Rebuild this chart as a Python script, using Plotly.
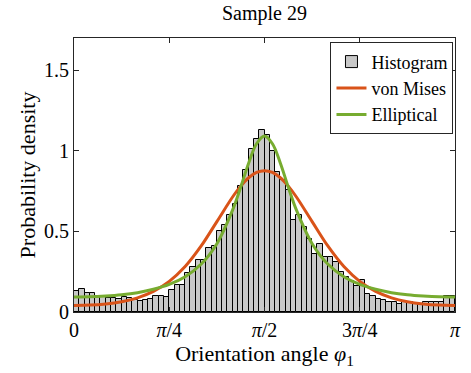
import numpy as np
import plotly.graph_objects as go

# ---- data ----
n_bins = 72
hist_density = [
    0.13, 0.14, 0.12, 0.115, 0.10, 0.09, 0.085, 0.085, 0.08, 0.09,
    0.085, 0.075, 0.07, 0.075, 0.08, 0.10, 0.10, 0.095, 0.135, 0.165,
    0.17, 0.24, 0.28, 0.32, 0.325, 0.40, 0.41, 0.50, 0.54, 0.60,
    0.67, 0.78, 0.88, 1.01, 1.075, 1.13, 1.10, 1.00, 0.87, 0.82,
    0.76, 0.57, 0.60, 0.53, 0.45, 0.36, 0.42, 0.34, 0.34, 0.31,
    0.25, 0.22, 0.19, 0.16, 0.196, 0.11, 0.10, 0.08, 0.075, 0.064,
    0.06, 0.05, 0.064, 0.064, 0.055, 0.05, 0.06, 0.064, 0.06, 0.06,
    0.10, 0.097,
]

curve_deg = [0, 7.5, 15, 22.5, 30, 37.5, 45, 52.5, 60, 67.5, 75, 78.75, 82.5,
             86.25, 90, 93.75, 97.5, 101.25, 105, 112.5, 120, 127.5, 135,
             142.5, 150, 157.5, 165, 172.5, 180]
von_mises = [0.041, 0.043, 0.050, 0.064, 0.088, 0.128, 0.19, 0.282, 0.408,
             0.561, 0.715, 0.781, 0.833, 0.866, 0.877, 0.866, 0.833, 0.781,
             0.715, 0.561, 0.408, 0.282, 0.19, 0.128, 0.088, 0.064, 0.050,
             0.043, 0.041]
elliptical = [0.093, 0.094, 0.099, 0.107, 0.120, 0.141, 0.171, 0.219, 0.296,
              0.424, 0.635, 0.774, 0.923, 1.044, 1.092, 1.044, 0.923, 0.774,
              0.635, 0.424, 0.296, 0.219, 0.171, 0.141, 0.120, 0.107, 0.099,
              0.094, 0.093]

x_tick_vals = [0, np.pi / 4, np.pi / 2, 3 * np.pi / 4, np.pi]
x_tick_text = ["0", "<i>π</i>/4", "<i>π</i>/2", "3<i>π</i>/4", "<i>π</i>"]
y_tick_vals = [0, 0.5, 1, 1.5]
y_tick_text = ["0", "0.5", "1", "1.5"]

# ---- figure ----
edges = np.linspace(0, np.pi, n_bins + 1)
centers = 0.5 * (edges[:-1] + edges[1:])
width = edges[1] - edges[0]
cx = np.array(curve_deg) * np.pi / 180

FONT = "Liberation Serif"
AX = "#262626"

fig = go.Figure()
fig.add_trace(go.Bar(
    x=centers, y=hist_density, width=width, name="Histogram",
    marker=dict(color="#c8c8c8", line=dict(color="black", width=1)),
))
fig.add_trace(go.Scatter(
    x=cx, y=von_mises, mode="lines", name="von Mises",
    line=dict(color="#D95319", width=3, shape="spline"),
))
fig.add_trace(go.Scatter(
    x=cx, y=elliptical, mode="lines", name="Elliptical",
    line=dict(color="#77AC30", width=3, shape="spline"),
))

fig.update_layout(
    width=471, height=373,
    margin=dict(l=74, r=10, t=38, b=61),
    paper_bgcolor="white", plot_bgcolor="white",
    bargap=0,
    font=dict(family=FONT, size=20, color="black"),
    title=dict(text="Sample 29", x=0.5, xref="paper", xanchor="center",
               y=0.985, yanchor="top", font=dict(family=FONT, size=20, color="black")),
    legend=dict(x=0.996, y=0.984, xanchor="right", yanchor="top",
                bgcolor="white", bordercolor=AX, borderwidth=1,
                font=dict(family=FONT, size=18, color="black"),
                tracegroupgap=0, itemwidth=30),
    showlegend=True,
)
fig.update_xaxes(
    range=[0, np.pi], tickvals=x_tick_vals, ticktext=x_tick_text,
    ticks="inside", ticklen=5, tickcolor=AX, showline=True, linecolor=AX,
    linewidth=1, mirror="ticks", showgrid=False, zeroline=False,
    tickfont=dict(family=FONT, size=20, color="black"),
    title=dict(text="Orientation angle <i>φ</i><sub>1</sub>", standoff=2,
               font=dict(family=FONT, size=22, color="black")),
)
fig.update_yaxes(
    range=[0, 1.7], tickvals=y_tick_vals, ticktext=y_tick_text,
    ticks="inside", ticklen=5, tickcolor=AX, showline=True, linecolor=AX,
    linewidth=1, mirror="ticks", showgrid=False, zeroline=False,
    tickfont=dict(family=FONT, size=20, color="black"),
    title=dict(text="Probability density", standoff=2,
               font=dict(family=FONT, size=22, color="black")),
)

fig.write_html("out.html")
